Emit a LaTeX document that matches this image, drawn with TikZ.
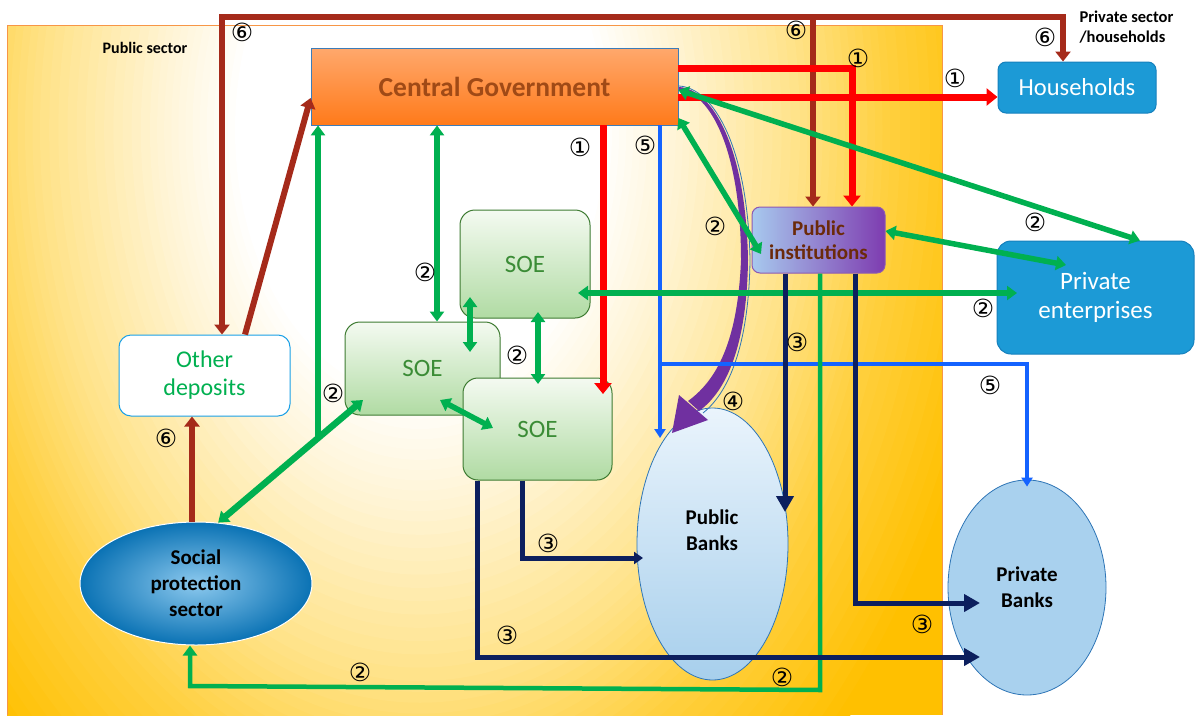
\documentclass[tikz,border=0pt]{standalone}
\usepackage{fontspec}
\setmainfont{Carlito}
\newfontfamily\circfont{DejaVu Sans}
\usetikzlibrary{arrows.meta,shapes.geometric,calc}
\definecolor{brn}{HTML}{A52A1A}
\definecolor{rd}{HTML}{FF0000}
\definecolor{gr}{HTML}{00B050}
\definecolor{bl}{HTML}{1463FF}
\definecolor{nv}{HTML}{0C1F5E}
\definecolor{pur}{HTML}{7030A0}
\definecolor{psA}{HTML}{FFF3D0}
\definecolor{psB}{HTML}{FFE38A}
\definecolor{psC}{HTML}{FFD040}
\definecolor{psD}{HTML}{FFC000}
\definecolor{psLine}{HTML}{F79646}
\definecolor{cgT}{HTML}{FFA86C}
\definecolor{cgB}{HTML}{FF7A1A}
\definecolor{cgLine}{HTML}{3D7CB8}
\definecolor{cgText}{HTML}{A04A16}
\definecolor{boxBl}{HTML}{1C9AD6}
\definecolor{boxBlLine}{HTML}{1580BD}
\definecolor{piL}{HTML}{A7C9EE}
\definecolor{piR}{HTML}{7E3CB0}
\definecolor{piText}{HTML}{6B2A0A}
\definecolor{soeT}{HTML}{F4FAF1}
\definecolor{soeB}{HTML}{B0DBA3}
\definecolor{soeLine}{HTML}{3E7B32}
\definecolor{soeText}{HTML}{3B8C36}
\definecolor{odLine}{HTML}{1AA0E6}
\definecolor{spIn}{HTML}{8CC9EE}
\definecolor{spOut}{HTML}{0A72B4}
\definecolor{bankT}{HTML}{EAF4FC}
\definecolor{bankB}{HTML}{A7CFEC}
\definecolor{bankLine}{HTML}{2E75B6}
\definecolor{prbFill}{HTML}{A9D1EE}
\begin{document}
\begin{tikzpicture}[x=1pt,y=-1pt,
  lbl/.style={font=\circfont\fontsize{25}{25}\selectfont, inner sep=0pt},
  soebox/.style={draw=soeLine, line width=1pt, rounded corners=15pt, top color=soeT, bottom color=soeB, text=soeText, font=\fontsize{25}{28}\selectfont},
  bluebox/.style={draw=boxBlLine, line width=1pt, fill=boxBl, text=white, align=center},
  brarrow/.style={draw=brn, line width=6pt, -{Triangle[length=10pt,width=15pt]}},
  redarrow/.style={draw=rd, line width=7pt, -{Triangle[length=11pt,width=17pt]}},
  bluearrow/.style={draw=bl, line width=4pt, -{Triangle[length=9pt,width=11pt]}},
  garrow/.style={draw=gr, line width=5.5pt, -{Triangle[length=10pt,width=14pt]}},
  gdbl/.style={draw=gr, line width=5.5pt, {Triangle[length=10pt,width=14pt]}-{Triangle[length=10pt,width=14pt]}},
  nvbig/.style={draw=nv, line width=5pt, -{Triangle[length=16pt,width=17pt]}},
  nvsmall/.style={draw=nv, line width=5pt, -{Triangle[length=9pt,width=12pt]}},
]
\useasboundingbox (0,0) rectangle (1204,715);
% public sector area (stepped radial gradient)
\begin{scope}
\clip (7,25) rectangle (942,715);
\fill[psD] (7,25) rectangle (942,715);
\foreach \ro/\ri/\co/\ci in {590/470/psD/psC, 470/380/psC/psB, 380/270/psB/psA, 270/185/psA/white}{
  \foreach \k in {0,...,11}{
    \pgfmathsetmacro\rr{\ro-(\ro-\ri)*\k/12}
    \pgfmathsetmacro\ry{1.45*\rr}
    \pgfmathsetmacro\pp{100*\k/12}
    \fill[\ci!\pp!\co] (420,130) ellipse [x radius=\rr, y radius=\ry];
  }
}
\fill[white] (420,130) ellipse [x radius=185, y radius=268];
\end{scope}
\draw[psLine, line width=1pt] (7,715) -- (7,25) -- (942,25) -- (942,715);
\node[font=\bfseries\fontsize{16}{18}\selectfont] (pubs) at (145,48) {Public sector};
\node[font=\bfseries\fontsize{16.5}{20}\selectfont, align=left, anchor=north west] (privs) at (1076,7) {Private sector\\/households};

% nodes
\node[rectangle, minimum width=367pt, minimum height=77pt, top color=cgT, bottom color=cgB, draw=cgLine, line width=0.8pt, text=cgText, font=\bfseries\fontsize{27.5}{30}\selectfont] (cg) at (494.5,86.5) {Central Government};
\node[bluebox, rounded corners=8pt, minimum width=158pt, minimum height=51pt, font=\fontsize{24.5}{27}\selectfont] (hh) at (1077,87.5) {Households};
\node[draw=pur!80, line width=1pt, rounded corners=8pt, minimum width=133pt, minimum height=66pt, left color=piL, right color=piR, text=piText, align=center, font=\bfseries\fontsize{21}{24}\selectfont, inner sep=1pt] (pi) at (818.5,240) {Public\\institutions};
\node[bluebox, rounded corners=14pt, minimum width=197pt, minimum height=113pt, font=\fontsize{25}{29}\selectfont] (pe) at (1095.5,297.5) {Private\\enterprises};
\node[soebox, minimum width=130pt, minimum height=108pt] (soe1) at (525,264) {SOE};
\node[soebox, minimum width=155pt, minimum height=93pt] (soe2) at (422.5,368.5) {SOE};
\node[soebox, minimum width=149pt, minimum height=102pt] (soe3) at (537.5,429) {SOE};
\node[draw=odLine, line width=1pt, fill=white, rounded corners=12pt, minimum width=171pt, minimum height=81pt, text=gr, align=center, font=\fontsize{24}{28}\selectfont] (od) at (204.5,375.5) {Other\\deposits};
\node[ellipse, minimum width=232pt, minimum height=123pt, inner color=spIn, outer color=spOut, draw=white, line width=1pt, align=center, font=\bfseries\fontsize{21}{26}\selectfont, inner sep=0pt] (sp) at (196,583.5) {Social\\protection\\sector};
\node[ellipse, minimum width=151pt, minimum height=272pt, top color=bankT, bottom color=bankB, draw=bankLine, line width=0.8pt] (pb) at (712.5,544) {};
\node[align=center, font=\bfseries\fontsize{21}{26}\selectfont] (pbt) at (712,530) {Public\\Banks};
\node[ellipse, minimum width=158pt, minimum height=215pt, fill=prbFill, draw=bankLine, line width=0.8pt, align=center, font=\bfseries\fontsize{21}{26}\selectfont, inner sep=0pt] (prb) at (1027,587.5) {Private\\Banks};

% coordinates
\coordinate (ty) at (0,17);
\coordinate (bL) at (222,0);
\coordinate (bM) at (813,0);
\coordinate (bR) at (1063,0);
\coordinate (b2s) at (245,0);
\coordinate (b2y) at (0,98);
\coordinate (b3x) at (192,0);
\coordinate (r1y) at (0,68);
\coordinate (r1x) at (852,0);
\coordinate (r2y) at (0,97);
\coordinate (r3x) at (603,0);
\coordinate (r3e) at (603,394);
\coordinate (bx) at (660,0);
\coordinate (be) at (660,438);
\coordinate (by) at (0,364);
\coordinate (g1x) at (437,0);
\coordinate (gd1) at (363,400);
\coordinate (gv) at (318,438);
\coordinate (g3a) at (470,297);
\coordinate (g3b) at (470,352);
\coordinate (g4a) at (538,312);
\coordinate (g4b) at (538,384);
\coordinate (g5a) at (440,400);
\coordinate (g5b) at (493,428);
\coordinate (g6a) at (578,293);
\coordinate (g6b) at (1017,293);
\coordinate (g7y) at (0,118);
\coordinate (g7b) at (761,254);
\coordinate (g8y) at (0,90);
\coordinate (g8x) at (1140,0);
\coordinate (g9y) at (0,231);
\coordinate (g9b) at (1066,265);
\coordinate (gLx) at (820,0);
\coordinate (gLy) at (0,690);
\coordinate (gLl) at (190,686);
\coordinate (n1x) at (785,0);
\coordinate (n1e) at (785,512);
\coordinate (n2x) at (855,0);
\coordinate (n2e) at (980,603);
\coordinate (n3x) at (522,0);
\coordinate (n3e) at (643,558);
\coordinate (n4x) at (477,0);
\coordinate (n4e) at (980,657);

% purple curved arrow (4)
\fill[pur] (679,87) .. controls (713,89) and (746,148) .. (748,260) .. controls (747,335) and (731,388) .. (699,411)
  -- (688,401) .. controls (720,378) and (738,335) .. (741,260) .. controls (741,150) and (710,92) .. (679,90) -- cycle;
\fill[pur] (708,420) -- (679,395) -- (672,433) -- cycle;
\draw[bankLine, line width=0.8pt] (679,86) .. controls (714,88) and (748,148) .. (750,260) .. controls (749,335) and (733,389) .. (703,413);

% brown (6)
\draw[brarrow] (bM |- ty) -| (bL |- od.north);
\draw[brarrow] (bM |- ty) -| (bR |- hh.north);
\draw[brarrow] (bM |- ty) -- (bM |- pi.north);
\draw[brarrow] (b2s |- od.north) -- (cg.west |- b2y);
\draw[brarrow] (b3x |- sp.north) -- (b3x |- od.south);

% red (1)
\draw[redarrow] (cg.east |- r1y) -| (r1x |- pi.north);
\draw[redarrow] (cg.east |- r2y) -- (hh.west |- r2y);
\draw[redarrow] (r3x |- cg.south) -- (r3e);

% blue (5)
\draw[bluearrow] (bx |- cg.south) -- (be);
\draw[bluearrow, shorten >=-7pt] (bx |- by) -| (prb.north);

% green (2)
\draw[gdbl] (g1x |- cg.south) -- (g1x |- soe2.north);
\draw[gdbl, line width=6.5pt] (sp.70) -- (gd1);
\draw[garrow] (gv) -- (gv |- cg.south);
\draw[gdbl] (g3a) -- (g3b);
\draw[gdbl] (g4a) -- (g4b);
\draw[gdbl] (g5a) -- (g5b);
\draw[gdbl] (g6a) -- (g6b);
\draw[gdbl] (cg.east |- g7y) -- (g7b);
\draw[gdbl] (cg.east |- g8y) -- (g8x |- pe.north);
\draw[gdbl] (pi.east |- g9y) -- (g9b);
\draw[garrow, line width=4.5pt] (gLx |- pi.south) -- (gLx |- gLy) -- (gLl) -- (gLl |- sp.south);

% navy (3)
\draw[nvbig] (n1x |- pi.south) -- (n1e);
\draw[nvbig] (n2x |- pi.south) |- (n2e);
\draw[nvsmall] (n3x |- soe3.south) |- (n3e);
\draw[nvbig] (n4x |- soe3.south) |- (n4e);

% labels
\node[lbl] (l6a) at (242,32) {⑥};
\node[lbl] (l6b) at (796,30) {⑥};
\node[lbl] (l6c) at (1045,37) {⑥};
\node[lbl] (l6d) at (166,438) {⑥};
\node[lbl] (l1a) at (858,58) {①};
\node[lbl] (l1b) at (955,78) {①};
\node[lbl] (l1c) at (580,147) {①};
\node[lbl] (l5a) at (645,145) {⑤};
\node[lbl] (l5b) at (990,385) {⑤};
\node[lbl] (l2a) at (715,226) {②};
\node[lbl] (l2b) at (425,272) {②};
\node[lbl] (l2c) at (1035,222) {②};
\node[lbl] (l2d) at (983,308) {②};
\node[lbl] (l2e) at (517,355) {②};
\node[lbl] (l2f) at (333,393) {②};
\node[lbl] (l2g) at (360,672) {②};
\node[lbl] (l2h) at (782,677) {②};
\node[lbl] (l3a) at (797,342) {③};
\node[lbl] (l3b) at (548,543) {③};
\node[lbl] (l3c) at (507,635) {③};
\node[lbl] (l3d) at (922,624) {③};
\node[lbl] (l4a) at (733,401) {④};
\end{tikzpicture}
\end{document}
